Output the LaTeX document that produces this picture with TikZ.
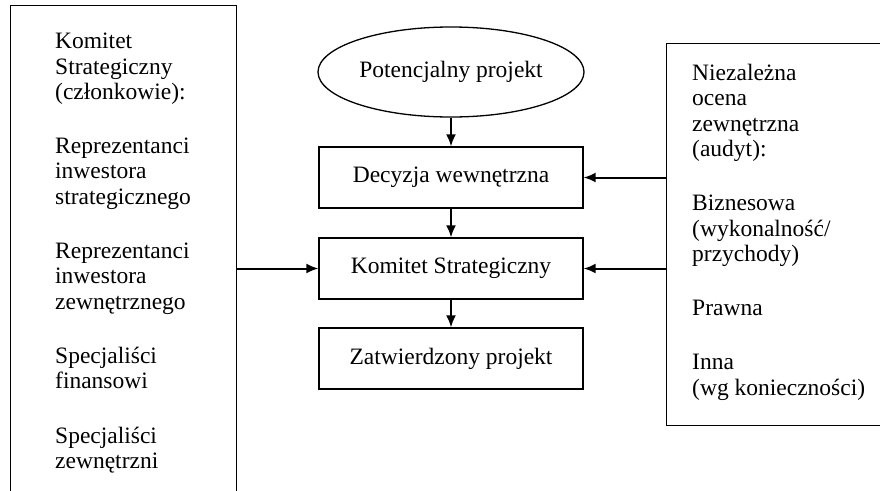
\documentclass[tikz,border=0pt]{standalone}
\usepackage{fontspec}
\setmainfont{Liberation Serif}
\usetikzlibrary{arrows.meta,shapes.geometric}
\tikzset{
  stage/.style={rectangle,draw,line width=1.3pt,minimum width=264pt,minimum height=61pt,inner sep=0pt},
  start/.style={ellipse,draw,line width=1.3pt,minimum width=266pt,minimum height=90pt,inner sep=0pt},
  panel/.style={rectangle,draw,line width=1.3pt,anchor=north west,inner sep=0pt},
  list/.style={align=left,anchor=north west,inner sep=0pt},
  flow/.style={line width=2pt,-{Latex[length=12pt,width=10pt]}}
}

\begin{document}
\begin{tikzpicture}[x=1pt,y=-1pt,font=\fontsize{23.5}{25.3}\selectfont]
    \useasboundingbox (0,0) rectangle (880,490);
    \clip (0,0) rectangle (880,490);

    % — Side panels (open towards the page edges)
    \node[panel,minimum width=226pt,minimum height=520pt] (members) at (10,5) {};
    \node[panel,minimum width=240pt,minimum height=382pt] (audit) at (666,43) {};

    \node[list] (memberlist) at (55,33) {Komitet\\Strategiczny\\(członkowie):\\[29pt]
      Reprezentanci\\inwestora\\strategicznego\\[29pt]
      Reprezentanci\\inwestora\\zewnętrznego\\[29pt]
      Specjaliści\\finansowi\\[29pt]
      Specjaliści\\zewnętrzni};
    \node[list] (auditlist) at (692,64) {Niezależna\\ocena\\zewnętrzna\\(audyt):\\[29pt]
      Biznesowa\\(wykonalność/\\przychody)\\[29pt]
      Prawna\\[29pt]
      Inna\\(wg konieczności)};

    % — Decision path
    \node[start] (potential) at (451, 72)   {Potencjalny projekt};
    \node[stage] (decision)  at (451, 177.5) {Decyzja wewnętrzna};
    \node[stage] (committee) at (451, 268.5) {Komitet Strategiczny};
    \node[stage] (approved)  at (451, 358.5) {Zatwierdzony projekt};

    \draw[flow] (potential) -- (decision);
    \draw[flow] (decision)  -- (committee);
    \draw[flow] (committee) -- (approved);

    % — Inputs from the panels
    \draw[flow] (members.east |- committee) -- (committee);
    \draw[flow] (audit.west |- decision)    -- (decision);
    \draw[flow] (audit.west |- committee)   -- (committee);
\end{tikzpicture}
\end{document}
